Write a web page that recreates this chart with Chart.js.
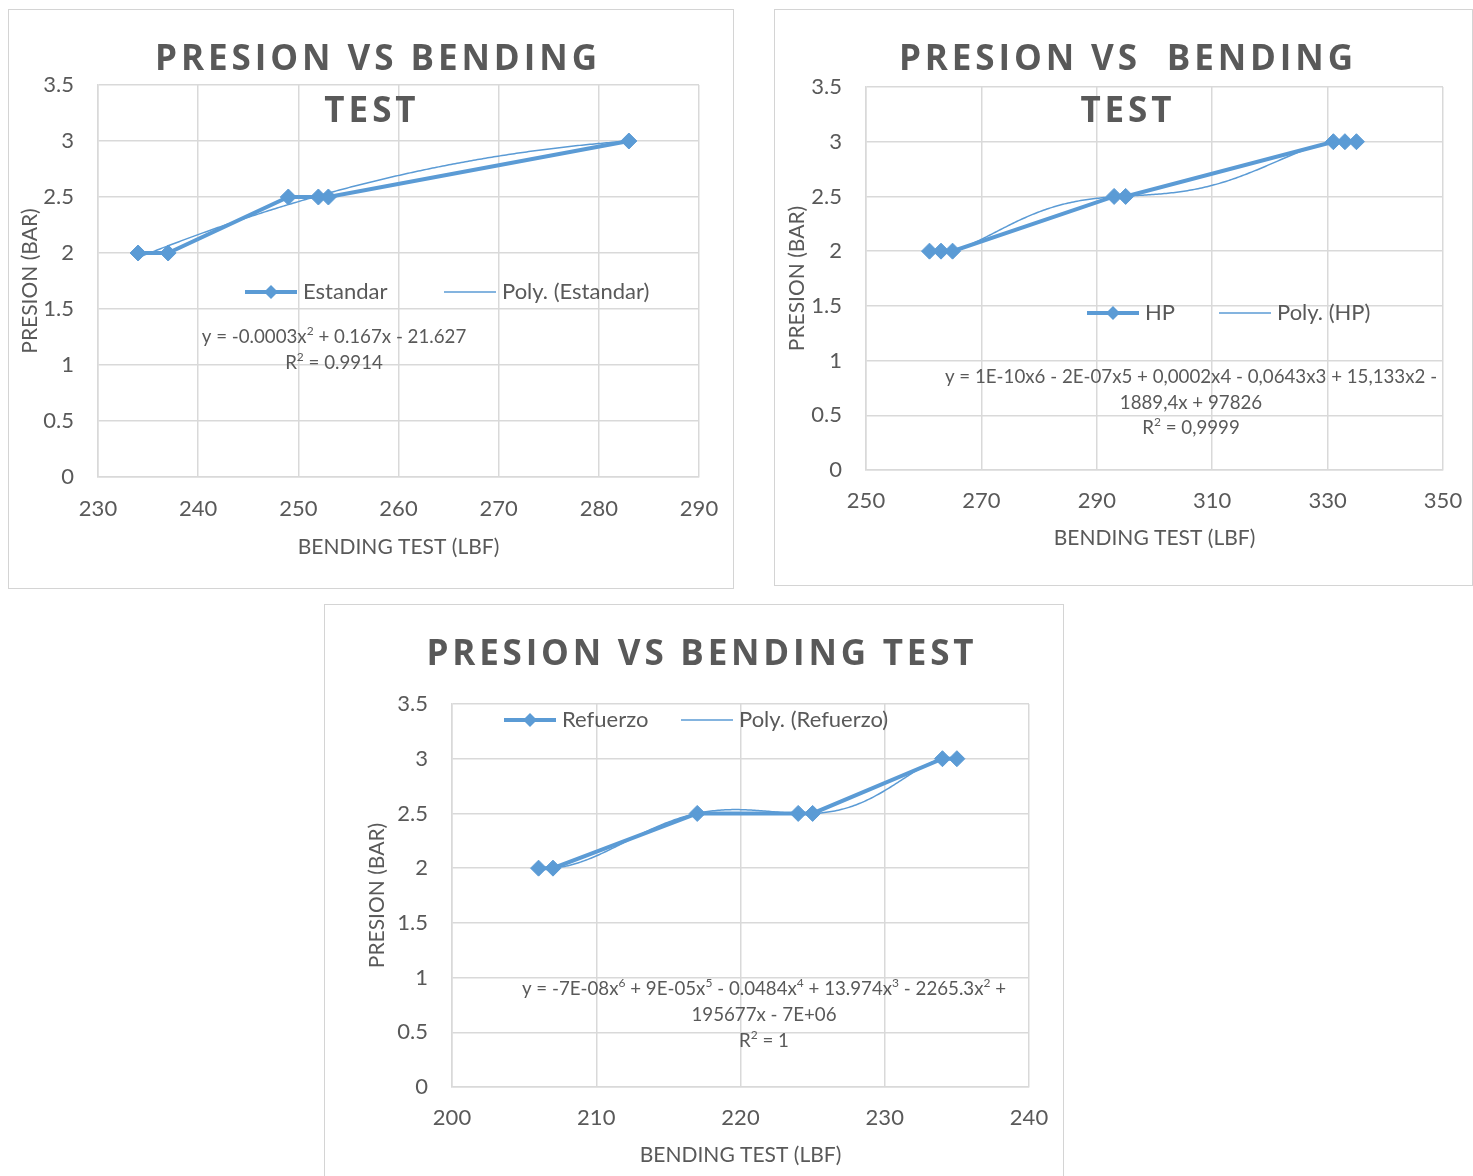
<!DOCTYPE html>
<html>
<head>
<meta charset="utf-8">
<script src="https://cdn.jsdelivr.net/npm/chart.js@4.4.1/dist/chart.umd.min.js"></script>
<style>
  html, body { margin: 0; padding: 0; background: #fff; }
  body { width: 1473px; height: 1176px; position: relative; overflow: hidden; }
  .box { position: absolute; border: 1px solid #d4d4d4; box-sizing: border-box; background: #fff; }
  .box canvas { position: absolute; left: 0; top: 0; }
</style>
</head>
<body>
<div class="box" style="left:8px;top:9px;width:726px;height:580px"><canvas id="c1" width="724" height="578"></canvas></div>
<div class="box" style="left:774px;top:9px;width:699px;height:577px"><canvas id="c2" width="697" height="575"></canvas></div>
<div class="box" style="left:324px;top:604px;width:740px;height:600px"><canvas id="c3" width="738" height="578"></canvas></div>

<script>
// ---- measured data: bending test (lbf) vs pressure (bar) ----
const estandarX = [234, 237, 249, 252, 253, 283];
const estandarY = [2, 2, 2.5, 2.5, 2.5, 3];

const hpX = [261, 263, 265, 293, 295, 331, 333, 335];
const hpY = [2, 2, 2, 2.5, 2.5, 3, 3, 3];

const refuerzoX = [206, 207, 217, 224, 225, 234, 235];
const refuerzoY = [2, 2, 2.5, 2.5, 2.5, 3, 3];

// ---- axis ticks ----
const presionTicks = [0, 0.5, 1, 1.5, 2, 2.5, 3, 3.5];
const estandarTicks = [230, 240, 250, 260, 270, 280, 290];
const hpTicks = [250, 270, 290, 310, 330, 350];
const refuerzoTicks = [200, 210, 220, 230, 240];

// ---- trendline order and printed equations ----
const estandarDegree = 2;
const hpDegree = 6;
const refuerzoDegree = 6;
const estandarEquation = ['y = -0.0003x^2 + 0.167x - 21.627', 'R^2 = 0.9914'];
const hpEquation = ['y = 1E-10x6 - 2E-07x5 + 0,0002x4 - 0,0643x3 + 15,133x2 -', '1889,4x + 97826', 'R^2 = 0,9999'];
const refuerzoEquation = ['y = -7E-08x^6 + 9E-05x^5 - 0.0484x^4 + 13.974x^3 - 2265.3x^2 +', '195677x - 7E+06', 'R^2 = 1'];

const BLUE = '#5B9BD5';
const TEXT = '#595959';
const GRID = '#d9d9d9';
const FONT = 'Lato, "Open Sans", "DejaVu Sans", sans-serif';
const TITLE_FONT = '"Open Sans", Lato, "DejaVu Sans", sans-serif';

// Least-squares polynomial fit (Householder QR on a centred, scaled Vandermonde matrix)
function polyFit(xs, ys, deg) {
  const lo = Math.min(...xs), hi = Math.max(...xs);
  const mid = (lo + hi) / 2, half = (hi - lo) / 2 || 1;
  const m = xs.length, n = deg + 1;
  const A = xs.map(x => { const t = (x - mid) / half; return Array.from({length: n}, (_, j) => Math.pow(t, j)); });
  const b = ys.slice();
  for (let k = 0; k < n; k++) {
    let norm = 0;
    for (let i = k; i < m; i++) norm += A[i][k] * A[i][k];
    norm = Math.sqrt(norm);
    if (norm === 0) continue;
    const alpha = A[k][k] > 0 ? -norm : norm;
    const v = new Array(m).fill(0);
    for (let i = k; i < m; i++) v[i] = A[i][k];
    v[k] -= alpha;
    let vn = 0;
    for (let i = k; i < m; i++) vn += v[i] * v[i];
    if (vn === 0) continue;
    for (let j = k; j < n; j++) {
      let s = 0;
      for (let i = k; i < m; i++) s += v[i] * A[i][j];
      s = 2 * s / vn;
      for (let i = k; i < m; i++) A[i][j] -= s * v[i];
    }
    let s = 0;
    for (let i = k; i < m; i++) s += v[i] * b[i];
    s = 2 * s / vn;
    for (let i = k; i < m; i++) b[i] -= s * v[i];
  }
  const c = new Array(n).fill(0);
  for (let i = n - 1; i >= 0; i--) {
    let s = b[i];
    for (let j = i + 1; j < n; j++) s -= A[i][j] * c[j];
    c[i] = s / A[i][i];
  }
  return x => { const t = (x - mid) / half; let y = 0; for (let j = n - 1; j >= 0; j--) y = y * t + c[j]; return y; };
}

function trendPoints(xs, ys, deg) {
  const f = polyFit(xs, ys, deg);
  const lo = Math.min(...xs), hi = Math.max(...xs);
  const steps = 240, pts = [];
  for (let i = 0; i <= steps; i++) { const x = lo + (hi - lo) * i / steps; pts.push({x, y: f(x)}); }
  return pts;
}

// Text with manual letter spacing, centred on cx
function drawSpaced(ctx, text, cx, cy, spacing) {
  const chars = [...text];
  const widths = chars.map(ch => ctx.measureText(ch).width);
  const total = widths.reduce((a, w) => a + w, 0) + spacing * (chars.length - 1);
  let x = cx - total / 2;
  ctx.textAlign = 'left';
  chars.forEach((ch, i) => { ctx.fillText(ch, x, cy); x += widths[i] + spacing; });
}

// Letter spacing that stretches a line to the wanted width
function spacingFor(ctx, text, width) {
  const chars = [...text];
  const natural = chars.reduce((a, ch) => a + ctx.measureText(ch).width, 0);
  return Math.max(0, (width - natural) / (chars.length - 1));
}

// Text where "^d" prints d as a superscript, centred on cx
function drawRich(ctx, text, cx, cy, size) {
  const segs = [];
  for (let i = 0; i < text.length; i++) {
    if (text[i] === '^' && i + 1 < text.length) { segs.push({t: text[i + 1], sup: true}); i++; }
    else if (segs.length && !segs[segs.length - 1].sup) segs[segs.length - 1].t += text[i];
    else segs.push({t: text[i], sup: false});
  }
  const supSize = Math.round(size * 0.62);
  const fontOf = s => `${s.sup ? supSize : size}px ${FONT}`;
  let total = 0;
  segs.forEach(s => { ctx.font = fontOf(s); s.w = ctx.measureText(s.t).width; total += s.w; });
  let x = cx - total / 2;
  ctx.textAlign = 'left';
  segs.forEach(s => { ctx.font = fontOf(s); ctx.fillText(s.t, x, s.sup ? cy - size * 0.32 : cy); x += s.w; });
}

// Chart title, in-plot legend and trendline equation
function overlayPlugin(o) {
  return {
    id: 'overlay',
    afterDraw(chart) {
      const ctx = chart.ctx;
      ctx.save();
      ctx.fillStyle = TEXT;
      ctx.textBaseline = 'middle';
      ctx.font = `700 ${o.titleSize}px ${TITLE_FONT}`;
      const sp = spacingFor(ctx, o.title[0].text, o.titleWidth);
      o.title.forEach(t => drawSpaced(ctx, t.text, t.cx, t.cy, sp));

      const ds = chart.data.datasets;
      const L = o.legend;
      // series sample: thick line + diamond
      ctx.strokeStyle = BLUE; ctx.lineWidth = 4; ctx.lineCap = 'butt';
      ctx.beginPath(); ctx.moveTo(L.x0, L.y); ctx.lineTo(L.x0 + L.len, L.y); ctx.stroke();
      const dx = L.x0 + L.len / 2, r = 7;
      ctx.fillStyle = BLUE;
      ctx.beginPath(); ctx.moveTo(dx, L.y - r); ctx.lineTo(dx + r, L.y); ctx.lineTo(dx, L.y + r); ctx.lineTo(dx - r, L.y); ctx.closePath(); ctx.fill();
      // trendline sample: thin line
      ctx.lineWidth = 1.5;
      ctx.beginPath(); ctx.moveTo(L.x1, L.y); ctx.lineTo(L.x1 + L.len, L.y); ctx.stroke();
      ctx.fillStyle = TEXT;
      ctx.font = `${L.size}px ${FONT}`;
      ctx.textAlign = 'left';
      ctx.fillText(ds[0].label, L.x0 + L.len + L.gap, L.y);
      ctx.fillText(ds[1].label, L.x1 + L.len + L.gap, L.y);

      const E = o.eq;
      E.lines.forEach((line, i) => drawRich(ctx, line, E.cx, E.y0 + i * E.step, E.size));
      ctx.restore();
    }
  };
}

function makeChart(id, s) {
  const series = s.xs.map((x, i) => ({x, y: s.ys[i]}));
  return new Chart(document.getElementById(id), {
    type: 'line',
    data: {
      datasets: [
        { label: s.name, data: series, borderColor: BLUE, backgroundColor: BLUE, borderWidth: 4,
          pointStyle: 'rectRot', pointRadius: 8, pointBorderWidth: 1, pointBorderColor: BLUE,
          pointBackgroundColor: BLUE, tension: 0, order: 1 },
        { label: 'Poly. (' + s.name + ')', data: trendPoints(s.xs, s.ys, s.degree), borderColor: BLUE,
          borderWidth: 1.5, pointRadius: 0, tension: 0, order: 0 }
      ]
    },
    options: {
      responsive: false,
      animation: false,
      events: [],
      layout: { padding: s.pad },
      plugins: { legend: { display: false }, title: { display: false }, tooltip: { enabled: false } },
      scales: {
        x: {
          type: 'linear', min: s.xTicks[0], max: s.xTicks[s.xTicks.length - 1],
          afterBuildTicks: sc => { sc.ticks = s.xTicks.map(v => ({value: v})); },
          afterFit: sc => { sc.height = s.xH; sc.paddingLeft = 0; sc.paddingRight = 0; },
          grid: { color: GRID, lineWidth: 1.5, drawTicks: false },
          border: { color: GRID, width: 1.5 },
          ticks: { padding: s.xPad, color: TEXT, font: { family: FONT, size: 22 }, maxRotation: 0, autoSkip: false,
                   callback: v => String(v) },
          title: { display: true, text: 'BENDING TEST (LBF)', color: TEXT, font: { family: FONT, size: 21 },
                   padding: { top: 0, bottom: s.xTitlePad } }
        },
        y: {
          type: 'linear', min: 0, max: 3.5,
          afterBuildTicks: sc => { sc.ticks = presionTicks.map(v => ({value: v})); },
          afterFit: sc => { sc.width = s.yW; sc.paddingTop = 0; sc.paddingBottom = 0; },
          grid: { color: GRID, lineWidth: 1.5, drawTicks: false },
          border: { color: GRID, width: 1.5 },
          ticks: { padding: 24, color: TEXT, font: { family: FONT, size: 22 }, autoSkip: false,
                   callback: v => String(v) },
          title: { display: true, text: 'PRESION (BAR)', color: TEXT, font: { family: FONT, size: 21 },
                   padding: { top: s.yTitlePad, bottom: 0 } }
        }
      }
    },
    plugins: [overlayPlugin(s.overlay)]
  });
}

makeChart('c1', {
  name: 'Estandar', xs: estandarX, ys: estandarY, degree: estandarDegree, xTicks: estandarTicks,
  pad: { top: 75, right: 34, bottom: 0, left: 0 }, yW: 89, xH: 111, xPad: 19, xTitlePad: 28.4, yTitlePad: 8.4,
  overlay: {
    titleSize: 35, titleWidth: 442,
    title: [ { text: 'PRESION VS BENDING', cx: 367, cy: 50 }, { text: 'TEST', cx: 361, cy: 102 } ],
    legend: { x0: 236, x1: 435, y: 282, len: 52, gap: 6, size: 22 },
    eq: { lines: estandarEquation, cx: 325, y0: 327, step: 26, size: 18.7 }
  }
});

makeChart('c2', {
  name: 'HP', xs: hpX, ys: hpY, degree: hpDegree, xTicks: hpTicks,
  pad: { top: 77, right: 29, bottom: 0, left: 0 }, yW: 91, xH: 115, xPad: 18, xTitlePad: 34.4, yTitlePad: 9.4,
  overlay: {
    titleSize: 35, titleWidth: 454,
    title: [ { text: 'PRESION VS  BENDING', cx: 351, cy: 50 }, { text: 'TEST', cx: 351, cy: 102 } ],
    legend: { x0: 312, x1: 444, y: 303, len: 52, gap: 6, size: 22 },
    eq: { lines: hpEquation, cx: 416, y0: 367, step: 25.5, size: 18.7 }
  }
});

makeChart('c3', {
  name: 'Refuerzo', xs: refuerzoX, ys: refuerzoY, degree: refuerzoDegree, xTicks: refuerzoTicks,
  pad: { top: 99, right: 34, bottom: 0, left: 0 }, yW: 127, xH: 96, xPad: 18, xTitlePad: 15.4, yTitlePad: 39.4,
  overlay: {
    titleSize: 35, titleWidth: 547,
    title: [ { text: 'PRESION VS BENDING TEST', cx: 375, cy: 50 } ],
    legend: { x0: 179, x1: 356, y: 115, len: 52, gap: 6, size: 22 },
    eq: { lines: refuerzoEquation, cx: 439, y0: 384, step: 26, size: 18.7 }
  }
});
</script>
</body>
</html>
